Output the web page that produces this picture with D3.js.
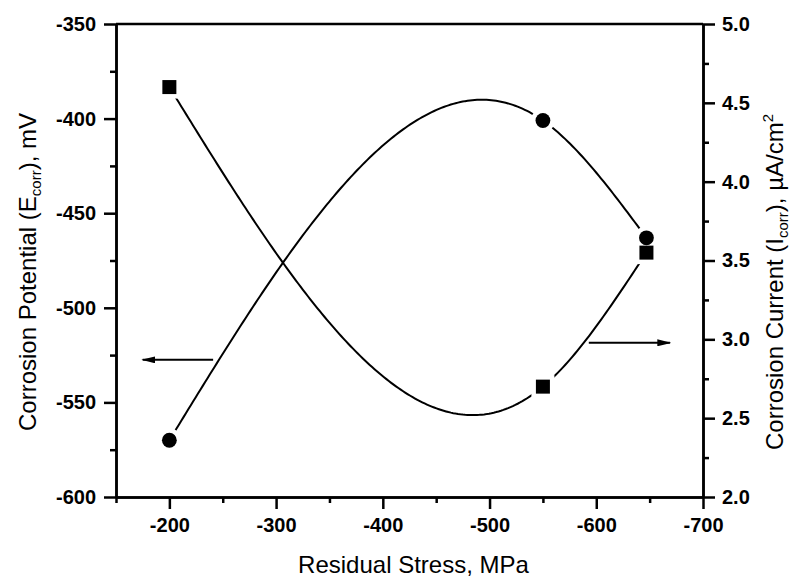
<!DOCTYPE html>
<html>
<head>
<meta charset="utf-8">
<script src="https://cdn.jsdelivr.net/npm/d3@7"></script>
<style>
  body { margin: 0; background: #fff; }
  svg { display: block; }
  text { font-family: "Liberation Sans", Arial, sans-serif; }
</style>
</head>
<body>
<svg id="chart" width="790" height="579"></svg>
<script>
// data
const stress = [-200, -550, -647];        // Residual stress, MPa
const ecorr = [-570, -401, -463];         // Corrosion potential, mV
const icorr = [4.6, 2.7, 3.55];           // Corrosion current, uA/cm2

const xTicks = [-200, -300, -400, -500, -600, -700];
const xMinor = [-150, -250, -350, -450, -550, -650];
const yLeftTicks = [-600, -550, -500, -450, -400, -350];
const yLeftMinor = [-575, -525, -475, -425, -375];
const yRightTicks = [2.0, 2.5, 3.0, 3.5, 4.0, 4.5, 5.0];
const yRightMinor = [2.25, 2.75, 3.25, 3.75, 4.25, 4.75];

const width = 790, height = 579;
const margin = { top: 24, right: 87, bottom: 82, left: 116 };
const innerW = width - margin.left - margin.right;
const innerH = height - margin.top - margin.bottom;

const svg = d3.select("#chart");
const g = svg.append("g").attr("transform", `translate(${margin.left},${margin.top})`);

const x = d3.scaleLinear().domain([-150, -700]).range([0, innerW]);
const yL = d3.scaleLinear().domain([-600, -350]).range([innerH, 0]);
const yR = d3.scaleLinear().domain([2.0, 5.0]).range([innerH, 0]);

// natural cubic spline through the points (like the original plotting program)
function naturalSpline(xs, ys) {
  const n = xs.length;
  const h = [], M = new Array(n).fill(0);
  for (let i = 0; i < n - 1; i++) h.push(xs[i + 1] - xs[i]);
  const a = [], b = [], c = [], r = [];
  for (let i = 1; i < n - 1; i++) {
    a.push(h[i - 1]); b.push(2 * (h[i - 1] + h[i])); c.push(h[i]);
    r.push(6 * ((ys[i + 1] - ys[i]) / h[i] - (ys[i] - ys[i - 1]) / h[i - 1]));
  }
  const m = b.length;
  for (let i = 1; i < m; i++) {
    const w = a[i] / b[i - 1];
    b[i] -= w * c[i - 1];
    r[i] -= w * r[i - 1];
  }
  for (let i = m - 1; i >= 0; i--) {
    M[i + 1] = (r[i] - (i < m - 1 ? c[i] * M[i + 2] : 0)) / b[i];
  }
  return function(t) {
    let i = 0;
    while (i < n - 2 && !((t - xs[i]) * (t - xs[i + 1]) <= 0)) i++;
    const hi = h[i], A = xs[i + 1] - t, B = t - xs[i];
    return M[i] * A * A * A / (6 * hi) + M[i + 1] * B * B * B / (6 * hi)
      + (ys[i] / hi - M[i] * hi / 6) * A + (ys[i + 1] / hi - M[i + 1] * hi / 6) * B;
  };
}

function curvePoints(xs, ys) {
  const f = naturalSpline(xs, ys);
  return d3.range(0, 201).map(k => {
    const t = xs[0] + (xs[xs.length - 1] - xs[0]) * k / 200;
    return [t, f(t)];
  });
}

const lineL = d3.line().x(d => x(d[0])).y(d => yL(d[1]));
const lineR = d3.line().x(d => x(d[0])).y(d => yR(d[1]));

g.append("path")
  .attr("d", lineL(curvePoints(stress, ecorr)))
  .attr("fill", "none").attr("stroke", "#000").attr("stroke-width", 2);

g.append("path")
  .attr("d", lineR(curvePoints(stress, icorr)))
  .attr("fill", "none").attr("stroke", "#000").attr("stroke-width", 2);

// white halos so the lines stop short of the symbols
const halo = 4.5;
g.selectAll(".haloC").data(stress).enter().append("circle")
  .attr("cx", d => x(d)).attr("cy", (d, i) => yL(ecorr[i]))
  .attr("r", 7.4 + halo).attr("fill", "#fff");
g.selectAll(".haloS").data(stress).enter().append("rect")
  .attr("x", d => x(d) - 7 - halo).attr("y", (d, i) => yR(icorr[i]) - 7 - halo)
  .attr("width", 14 + 2 * halo).attr("height", 14 + 2 * halo).attr("fill", "#fff");

g.selectAll(".dotC").data(stress).enter().append("circle")
  .attr("cx", d => x(d)).attr("cy", (d, i) => yL(ecorr[i]))
  .attr("r", 7.4).attr("fill", "#000");
g.selectAll(".dotS").data(stress).enter().append("rect")
  .attr("x", d => x(d) - 7).attr("y", (d, i) => yR(icorr[i]) - 7)
  .attr("width", 14).attr("height", 14).attr("fill", "#000");

// arrows pointing to the axes
svg.append("defs").append("marker")
  .attr("id", "head").attr("viewBox", "0 0 10 10")
  .attr("preserveAspectRatio", "none")
  .attr("refX", 9).attr("refY", 5)
  .attr("markerWidth", 14).attr("markerHeight", 7)
  .attr("markerUnits", "userSpaceOnUse")
  .attr("orient", "auto")
  .append("path").attr("d", "M0,0 L10,5 L0,10 z").attr("fill", "#000");

const arrows = [
  { x1: -241, x2: -175, y: -527.5 },
  { x1: -593, x2: -669, y: -518.5 }
];
g.selectAll(".arrow").data(arrows).enter().append("line")
  .attr("x1", d => x(d.x1)).attr("x2", d => x(d.x2))
  .attr("y1", d => yL(d.y)).attr("y2", d => yL(d.y))
  .attr("stroke", "#000").attr("stroke-width", 2)
  .attr("marker-end", "url(#head)");

// axes
function styleAxis(sel) {
  sel.selectAll("path").attr("stroke-width", 2.5);
  sel.selectAll("line").attr("stroke-width", 2.5);
  sel.selectAll("text").attr("font-size", 20).attr("font-weight", "bold")
    .attr("font-family", "'Liberation Sans', Arial, sans-serif").attr("fill", "#000");
}
const plain = d => String(d);

g.append("g").attr("transform", `translate(0,${innerH})`)
  .call(d3.axisBottom(x).tickValues(xTicks).tickSize(12).tickSizeOuter(0).tickPadding(9)
    .tickFormat(plain))
  .call(styleAxis);
g.append("g").attr("transform", `translate(0,${innerH})`)
  .call(d3.axisBottom(x).tickValues(xMinor).tickSize(6).tickSizeOuter(0).tickFormat(""))
  .call(styleAxis);

g.append("g")
  .call(d3.axisLeft(yL).tickValues(yLeftTicks).tickSize(12).tickSizeOuter(0).tickPadding(8)
    .tickFormat(plain))
  .call(styleAxis);
g.append("g")
  .call(d3.axisLeft(yL).tickValues(yLeftMinor).tickSize(6).tickSizeOuter(0).tickFormat(""))
  .call(styleAxis);

g.append("g").attr("transform", `translate(${innerW},0)`)
  .call(d3.axisRight(yR).tickValues(yRightTicks).tickSize(12).tickSizeOuter(0).tickPadding(7)
    .tickFormat(d => d.toFixed(1)))
  .call(styleAxis);
g.append("g").attr("transform", `translate(${innerW},0)`)
  .call(d3.axisRight(yR).tickValues(yRightMinor).tickSize(6).tickSizeOuter(0).tickFormat(""))
  .call(styleAxis);

// top frame line
g.append("line").attr("x1", 0).attr("x2", innerW).attr("y1", 0).attr("y2", 0)
  .attr("stroke", "#000").attr("stroke-width", 2.5);

// axis titles
svg.append("text")
  .attr("x", margin.left + innerW / 2 + 4).attr("y", 573)
  .attr("text-anchor", "middle").attr("font-size", 24)
  .text("Residual Stress, MPa");

const leftTitle = svg.append("text")
  .attr("transform", "translate(36,272) rotate(-90)")
  .attr("text-anchor", "middle").attr("font-size", 24);
leftTitle.append("tspan").text("Corrosion Potential (E");
leftTitle.append("tspan").attr("font-size", 15).attr("dy", 5).text("corr");
leftTitle.append("tspan").attr("dy", -5).text("), mV");

const rightTitle = svg.append("text")
  .attr("transform", "translate(783,282) rotate(-90)")
  .attr("text-anchor", "middle").attr("font-size", 24);
rightTitle.append("tspan").text("Corrosion Current (I");
rightTitle.append("tspan").attr("font-size", 15).attr("dy", 5).text("corr");
rightTitle.append("tspan").attr("dy", -5).text("), \u00B5A/cm");
rightTitle.append("tspan").attr("font-size", 15).attr("dy", -10).text("2");
</script>
</body>
</html>
